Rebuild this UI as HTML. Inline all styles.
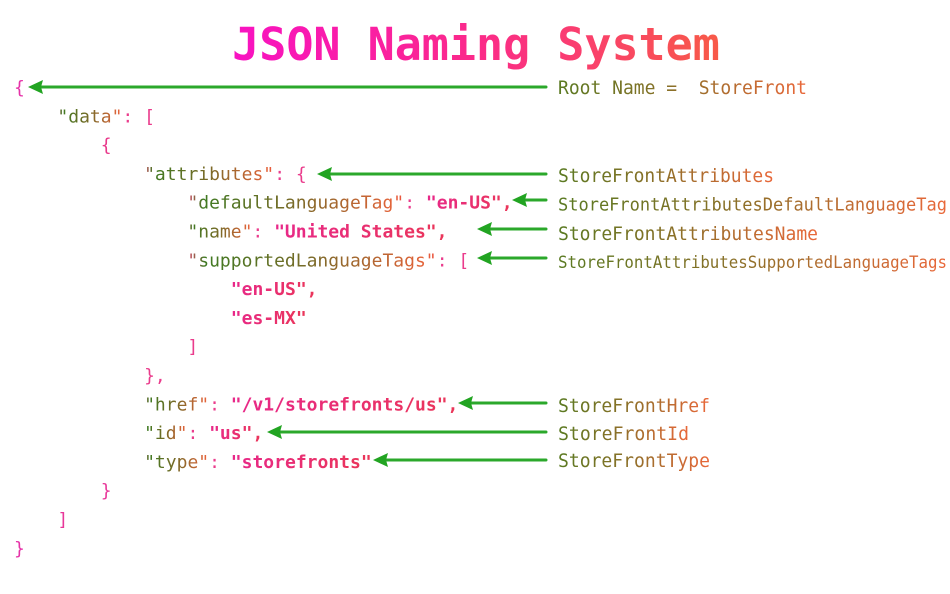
<!DOCTYPE html>
<html>
<head>
<meta charset="utf-8">
<style>
  html, body { margin: 0; padding: 0; background: #ffffff; }
  body { width: 950px; height: 594px; overflow: hidden; }
  svg { display: block; }
  text { font-family: "DejaVu Sans Mono", "Liberation Mono", monospace; }
</style>
</head>
<body>
<svg width="950" height="594" viewBox="0 0 950 594" xmlns="http://www.w3.org/2000/svg">
  <defs>
    <linearGradient id="title" x1="0" y1="0" x2="1" y2="0">
      <stop offset="0" stop-color="#f812c2"/>
      <stop offset="0.5" stop-color="#fb2a8a"/>
      <stop offset="1" stop-color="#f85a48"/>
    </linearGradient>
    <linearGradient id="key" x1="0" y1="0" x2="1" y2="0">
      <stop offset="0" stop-color="#d84a6a"/>
      <stop offset="0.07" stop-color="#3f7a22"/>
      <stop offset="0.5" stop-color="#7a6a28"/>
      <stop offset="0.95" stop-color="#e4643a"/>
      <stop offset="1" stop-color="#ec5040"/>
    </linearGradient>
    <linearGradient id="lab" x1="0" y1="0" x2="1" y2="0">
      <stop offset="0" stop-color="#5a7a22"/>
      <stop offset="0.45" stop-color="#8a7028"/>
      <stop offset="1" stop-color="#ea683a"/>
    </linearGradient>
    <linearGradient id="val" x1="0" y1="0" x2="1" y2="0">
      <stop offset="0" stop-color="#e8288a"/>
      <stop offset="1" stop-color="#ea3658"/>
    </linearGradient>
  </defs>

  <!-- Title -->
  <text x="476" y="60" text-anchor="middle" font-size="45" font-weight="bold" fill="url(#title)">JSON Naming System</text>

  <!-- Code -->
  <g font-size="18">
    <text x="14" y="93.5" fill="#e632a8">{</text>
    <text x="57.4" y="122.3" fill="url(#key)">"data"</text>
    <text x="122.4" y="122.3" fill="#ea3c8c">: [</text>
    <text x="100.7" y="151.1" fill="#e8388a">{</text>
    <text x="144.1" y="179.9" fill="url(#key)">"attributes"</text>
    <text x="274.2" y="179.9" fill="#ea3c8c">: {</text>
    <text x="187.4" y="208.7" fill="url(#key)">"defaultLanguageTag"</text>
    <text x="404.2" y="208.7" fill="#ea3c8c">:</text>
    <text x="425.9" y="208.7" fill="url(#val)" font-weight="bold">"en-US",</text>
    <text x="187.4" y="237.5" fill="url(#key)">"name"</text>
    <text x="252.4" y="237.5" fill="#ea3c8c">:</text>
    <text x="274.1" y="237.5" fill="url(#val)" font-weight="bold">"United States",</text>
    <text x="187.4" y="266.3" fill="url(#key)">"supportedLanguageTags"</text>
    <text x="436.7" y="266.3" fill="#ea3c8c">: [</text>
    <text x="230.8" y="295.1" fill="url(#val)" font-weight="bold">"en-US",</text>
    <text x="230.8" y="323.9" fill="url(#val)" font-weight="bold">"es-MX"</text>
    <text x="187.4" y="352.7" fill="#ea3c8c">]</text>
    <text x="144.1" y="381.5" fill="#ea3c8c">},</text>
    <text x="144.1" y="410.3" fill="url(#key)">"href"</text>
    <text x="209.1" y="410.3" fill="#ea3c8c">:</text>
    <text x="230.8" y="410.3" fill="url(#val)" font-weight="bold">"/v1/storefronts/us",</text>
    <text x="144.1" y="439.1" fill="url(#key)">"id"</text>
    <text x="187.5" y="439.1" fill="#ea3c8c">:</text>
    <text x="209.1" y="439.1" fill="url(#val)" font-weight="bold">"us",</text>
    <text x="144.1" y="467.9" fill="url(#key)">"type"</text>
    <text x="209.1" y="467.9" fill="#ea3c8c">:</text>
    <text x="230.8" y="467.9" fill="url(#val)" font-weight="bold">"storefronts"</text>
    <text x="100.7" y="496.7" fill="#e8389a">}</text>
    <text x="57.4" y="525.5" fill="#e8389a">]</text>
    <text x="14" y="554.3" fill="#e632a8">}</text>
  </g>

  <!-- Arrows -->
  <g stroke="#2ba82b" stroke-width="3" fill="none" stroke-linecap="round">
    <line x1="40" y1="87" x2="546" y2="87"/>
    <line x1="329" y1="174" x2="546" y2="174"/>
    <line x1="524" y1="200" x2="546" y2="200"/>
    <line x1="489" y1="229" x2="546" y2="229"/>
    <line x1="489" y1="258" x2="546" y2="258"/>
    <line x1="470" y1="403" x2="546" y2="403"/>
    <line x1="279" y1="432" x2="546" y2="432"/>
    <line x1="385" y1="460" x2="546" y2="460"/>
  </g>
  <g fill="#22a422">
    <polygon points="28,87 43,80 41,87 43,94"/>
    <polygon points="317,174 332,167 330,174 332,181"/>
    <polygon points="512,200 527,193 525,200 527,207"/>
    <polygon points="477,229 492,222 490,229 492,236"/>
    <polygon points="477,258 492,251 490,258 492,265"/>
    <polygon points="458,403 473,396 471,403 473,410"/>
    <polygon points="267,432 282,425 280,432 282,439"/>
    <polygon points="373,460 388,453 386,460 388,467"/>
  </g>

  <!-- Labels -->
  <g font-size="19" fill="url(#lab)">
    <text x="558" y="94" textLength="249" lengthAdjust="spacingAndGlyphs" xml:space="preserve">Root Name =  StoreFront</text>
    <text x="558" y="182" textLength="216" lengthAdjust="spacingAndGlyphs">StoreFrontAttributes</text>
    <text x="558" y="210.5" font-size="18" textLength="389" lengthAdjust="spacingAndGlyphs">StoreFrontAttributesDefaultLanguageTag</text>
    <text x="558" y="240" textLength="260" lengthAdjust="spacingAndGlyphs">StoreFrontAttributesName</text>
    <text x="558" y="268" font-size="17" textLength="389" lengthAdjust="spacingAndGlyphs">StoreFrontAttributesSupportedLanguageTags</text>
    <text x="558" y="412" textLength="152" lengthAdjust="spacingAndGlyphs">StoreFrontHref</text>
    <text x="558" y="440" textLength="131" lengthAdjust="spacingAndGlyphs">StoreFrontId</text>
    <text x="558" y="467" textLength="152" lengthAdjust="spacingAndGlyphs">StoreFrontType</text>
  </g>
</svg>
</body>
</html>
